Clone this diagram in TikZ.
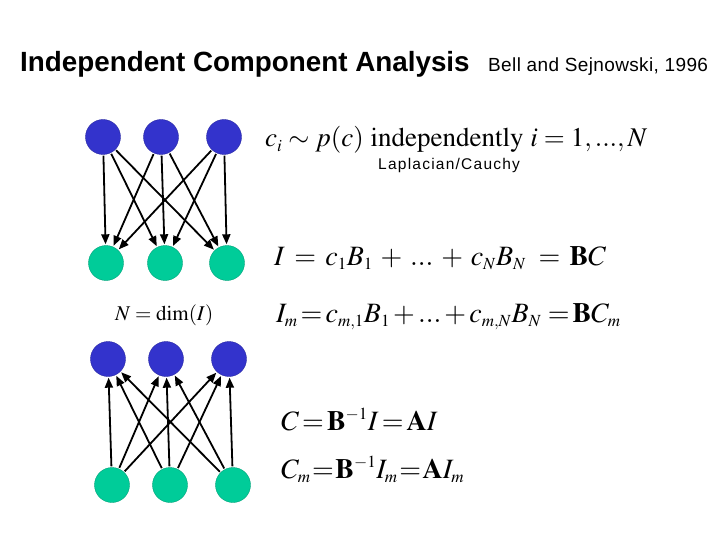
\documentclass[tikz,border=0pt]{standalone}
\usepackage{mathptmx}
\usepackage{fontspec}
\setmainfont{Liberation Serif}
\setsansfont{Liberation Sans}
\usetikzlibrary{arrows.meta}
\DeclareMathSizes{27}{27}{17}{12}
\DeclareMathSizes{28}{28}{17}{12}
\DeclareMathSizes{21}{21}{14}{10}
\newcommand\tightsp{\thickmuskip=2mu\relax\medmuskip=2mu\relax}
\newcommand\vtightsp{\thickmuskip=1mu\relax\medmuskip=1mu\relax}
\newcommand\widesp{\thickmuskip=6mu\relax\medmuskip=5mu\relax}
\definecolor{srcblue}{RGB}{51,51,204}
\definecolor{mixgreen}{RGB}{0,204,153}
\tikzset{
  srcnode/.style={circle,fill=srcblue,draw=srcblue!80!black,line width=0.4pt,minimum size=35pt,inner sep=0pt},
  mixnode/.style={circle,fill=mixgreen,draw=mixgreen!80!black,line width=0.4pt,minimum size=35pt,inner sep=0pt},
  link/.style={draw=black,line width=1.8pt,-{Triangle[length=10pt,width=8pt]},shorten >=1pt,shorten <=1pt},
  eq/.style={anchor=base west,inner sep=0pt,font=\fontsize{28}{30}\selectfont},
}
\begin{document}
\begin{tikzpicture}[x=1pt,y=-1pt]
\useasboundingbox (0,0) rectangle (720,540);
\fill[white] (0,0) rectangle (720,540);
% title
\node[anchor=base west,inner sep=0pt,font=\sffamily\bfseries\fontsize{27.8}{30}\selectfont] (title) at (20,72) {Independent Component Analysis};
\node[anchor=base west,inner sep=0pt,font=\sffamily\fontsize{19}{21}\selectfont\addfontfeature{LetterSpace=2}] (ref) at (488,72) {Bell and Sejnowski, 1996};
% top network
\node[srcnode] (b1) at (103,137) {};
\node[srcnode] (b2) at (161,137) {};
\node[srcnode] (b3) at (224,137) {};
\node[mixnode] (g1) at (106,263) {};
\node[mixnode] (g2) at (165,263) {};
\node[mixnode] (g3) at (227,263) {};
\foreach \s in {b1,b2,b3}{\foreach \t in {g1,g2,g3}{\draw[link] (\s) -- (\t);}}
% bottom network
\node[srcnode] (c1) at (108,359) {};
\node[srcnode] (c2) at (166,359) {};
\node[srcnode] (c3) at (229,359) {};
\node[mixnode] (h1) at (112,485) {};
\node[mixnode] (h2) at (170,485) {};
\node[mixnode] (h3) at (233,485) {};
\foreach \s in {h1,h2,h3}{\foreach \t in {c1,c2,c3}{\draw[link] (\s) -- (\t);}}
% equations
\node[anchor=base west,inner sep=0pt,font=\fontsize{27}{30}\selectfont] (e1) at (265,147) {$c_i \sim p(c)\ \mathrm{independently}\ i=1,...,N$};
\node[anchor=base west,inner sep=0pt,font=\sffamily\fontsize{15.5}{17}\selectfont\addfontfeature{LetterSpace=8}] (lap) at (378,170) {Laplacian/Cauchy};
\node[eq] (e2) at (274,265) {$\widesp I=c_1B_1+...+c_NB_N\,=\mathbf{B}C$};
\node[eq] (e3) at (276,322) {$\tightsp I_m=c_{m,1}B_1+...+c_{m,N}B_N\,=\mathbf{B}C_m$};
\node[anchor=base west,inner sep=0pt,font=\fontsize{21}{23}\selectfont] (dim) at (115,320) {$N=\mathrm{dim}(I)$};
\node[eq] (e4) at (281,430) {$\tightsp C=\mathbf{B}^{-1}I=\mathbf{A}I$};
\node[eq] (e5) at (281,478) {$\vtightsp C_m=\mathbf{B}^{-1}I_m=\mathbf{A}I_m$};
\end{tikzpicture}
\end{document}
